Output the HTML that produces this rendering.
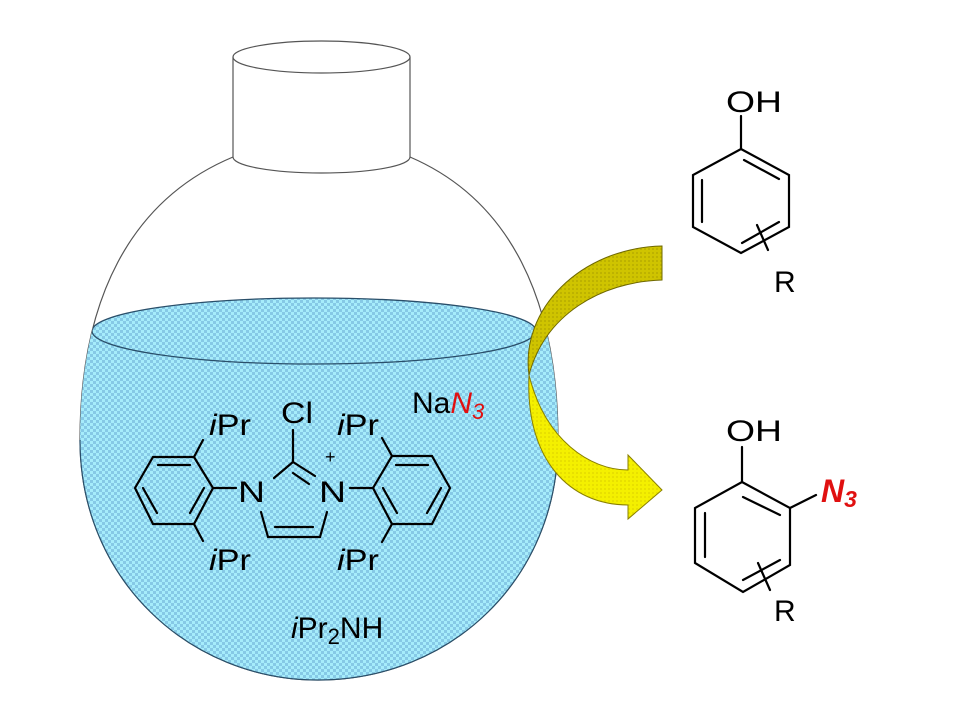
<!DOCTYPE html>
<html><head><meta charset="utf-8"><style>
html,body{margin:0;padding:0;background:#fff;}
svg{display:block;}
text{font-family:"Liberation Sans","DejaVu Sans",sans-serif;fill:#000;}
</style></head><body>
<svg width="958" height="718" viewBox="0 0 958 718" xmlns="http://www.w3.org/2000/svg">
<defs>
<pattern id="chk" width="6" height="6" patternUnits="userSpaceOnUse">
<rect width="6" height="6" fill="#a6ecfb"/>
<rect width="3" height="3" fill="#86c9e6"/>
<rect x="3" y="3" width="3" height="3" fill="#86c9e6"/>
</pattern>
<pattern id="ylw" width="4" height="4" patternUnits="userSpaceOnUse">
<rect width="4" height="4" fill="#f4f000"/><rect width="2" height="2" fill="#e8e000"/>
</pattern>
<pattern id="olv" width="4" height="4" patternUnits="userSpaceOnUse">
<rect width="4" height="4" fill="#cfc400"/><rect width="2" height="2" fill="#bdb200"/>
</pattern>
<clipPath id="body"><path d="M233,157 C130,200 80,300 80,440 C80,580 190,680 318,680 C450,680 558,580 558,440 C558,300 510,200 410,157 Z"/></clipPath>
</defs>

<path d="M233,157 C130,200 80,300 80,440 C80,580 190,680 318,680 C450,680 558,580 558,440 C558,300 510,200 410,157" fill="#fff" stroke="#555" stroke-width="1.2"/>
<g clip-path="url(#body)">
<path d="M60,331 L570,331 L570,720 L60,720 Z" fill="url(#chk)"/>
<ellipse cx="314" cy="331" rx="222" ry="33" fill="url(#chk)" stroke="#2a4f6a" stroke-width="1.3"/>
</g>
<path d="M80,440 C80,580 190,680 318,680 C450,680 558,580 558,440" fill="none" stroke="#2a4f6a" stroke-width="1.2"/>
<rect x="233" y="57" width="177" height="100" fill="#fff"/>
<line x1="233" y1="57" x2="233" y2="157" stroke="#555" stroke-width="1.2"/>
<line x1="410" y1="57" x2="410" y2="157" stroke="#555" stroke-width="1.2"/>
<path d="M233,157 A88.5,16 0 0 0 410,157" fill="none" stroke="#555" stroke-width="1.2"/>
<ellipse cx="321.5" cy="57" rx="88.5" ry="16" fill="#fff" stroke="#555" stroke-width="1.2"/>

<path d="M529,375 C545,440 590,470 628,470 L628,455 L662,490 L628,519 L628,505 C570,505 525,460 529,375 Z" fill="url(#ylw)" stroke="#8a8000" stroke-width="1"/>
<path d="M662,246 L662,280 C600,282 545,315 529,375 C520,310 580,248 662,246 Z" fill="url(#olv)" stroke="#6f6800" stroke-width="1"/>

<g stroke="#000" stroke-width="2.2" fill="none" stroke-linecap="round">
<polygon points="135,488 153,457 194,457 213,488 194,524 153,524"/>
<line x1="158" y1="465" x2="190" y2="465"/>
<line x1="143" y1="488" x2="157" y2="513"/>
<line x1="204" y1="488" x2="190" y2="513"/>
<line x1="213" y1="488" x2="236" y2="488"/>
<line x1="194" y1="457" x2="203" y2="440"/>
<line x1="194" y1="524" x2="203" y2="541"/>
<line x1="274" y1="478" x2="293" y2="462"/>
<line x1="293" y1="462" x2="315" y2="476"/>
<line x1="293" y1="473" x2="309" y2="484"/>
<line x1="293" y1="462" x2="293" y2="430"/>
<line x1="261" y1="512" x2="268" y2="537"/>
<line x1="268" y1="537" x2="320" y2="537"/>
<line x1="275" y1="527" x2="313" y2="527"/>
<line x1="320" y1="537" x2="327" y2="512"/>
<line x1="350" y1="488" x2="373" y2="488"/>
<polygon points="373,488 392,456 432,456 450,488 432,524 392,524"/>
<line x1="396" y1="465" x2="428" y2="465"/>
<line x1="441" y1="488" x2="427" y2="513"/>
<line x1="383" y1="488" x2="397" y2="513"/>
<line x1="392" y1="456" x2="382" y2="438"/>
<line x1="392" y1="524" x2="382" y2="542"/>
</g>
<g font-size="30">
<text x="238" y="502" textLength="27" lengthAdjust="spacingAndGlyphs">N</text>
<text x="319" y="502" textLength="27" lengthAdjust="spacingAndGlyphs">N</text>
<text x="281" y="423" textLength="32" lengthAdjust="spacingAndGlyphs">Cl</text>
<text x="325" y="463" font-size="18">+</text>
<text x="209" y="435" textLength="42" lengthAdjust="spacingAndGlyphs"><tspan font-style="italic">i</tspan>Pr</text>
<text x="209" y="570" textLength="42" lengthAdjust="spacingAndGlyphs"><tspan font-style="italic">i</tspan>Pr</text>
<text x="337" y="435" textLength="42" lengthAdjust="spacingAndGlyphs"><tspan font-style="italic">i</tspan>Pr</text>
<text x="337" y="570" textLength="42" lengthAdjust="spacingAndGlyphs"><tspan font-style="italic">i</tspan>Pr</text>
<text x="412" y="413">Na<tspan fill="#e01010" font-style="italic" style="fill:#e01010">N</tspan><tspan fill="#e01010" style="fill:#e01010" font-style="italic" font-size="22" dy="6">3</tspan></text>
<text x="291" y="638"><tspan font-style="italic">i</tspan>Pr<tspan font-size="22" dy="6">2</tspan><tspan dy="-6">NH</tspan></text>
</g>

<g stroke="#000" stroke-width="2.2" fill="none" stroke-linecap="round">
<polygon points="741,149 789,175 789,227 741,253 693,227 693,175"/>
<line x1="741" y1="149" x2="741" y2="116"/>
<line x1="744" y1="160" x2="779" y2="179"/>
<line x1="702" y1="180" x2="702" y2="222"/>
<line x1="742" y1="243" x2="779" y2="222"/>
<line x1="757" y1="225" x2="768" y2="250"/>
</g>
<text x="726" y="112" font-size="30" textLength="56" lengthAdjust="spacingAndGlyphs">OH</text>
<text x="774" y="292" font-size="30">R</text>

<g stroke="#000" stroke-width="2.2" fill="none" stroke-linecap="round">
<polygon points="742,482 790,508 790,565 743,592 695,563 695,508"/>
<line x1="742" y1="482" x2="742" y2="447"/>
<line x1="743" y1="497" x2="780" y2="515"/>
<line x1="705" y1="513" x2="705" y2="557"/>
<line x1="743" y1="580" x2="780" y2="560"/>
<line x1="790" y1="508" x2="816" y2="495"/>
<line x1="758" y1="563" x2="770" y2="590"/>
</g>
<text x="726" y="441" font-size="30" textLength="56" lengthAdjust="spacingAndGlyphs">OH</text>
<text x="821" y="502" font-size="32" font-weight="bold" font-style="italic" fill="#e01010" style="fill:#e01010">N<tspan font-size="23" dy="5">3</tspan></text>
<text x="774" y="621" font-size="30">R</text>
</svg>
</body></html>
